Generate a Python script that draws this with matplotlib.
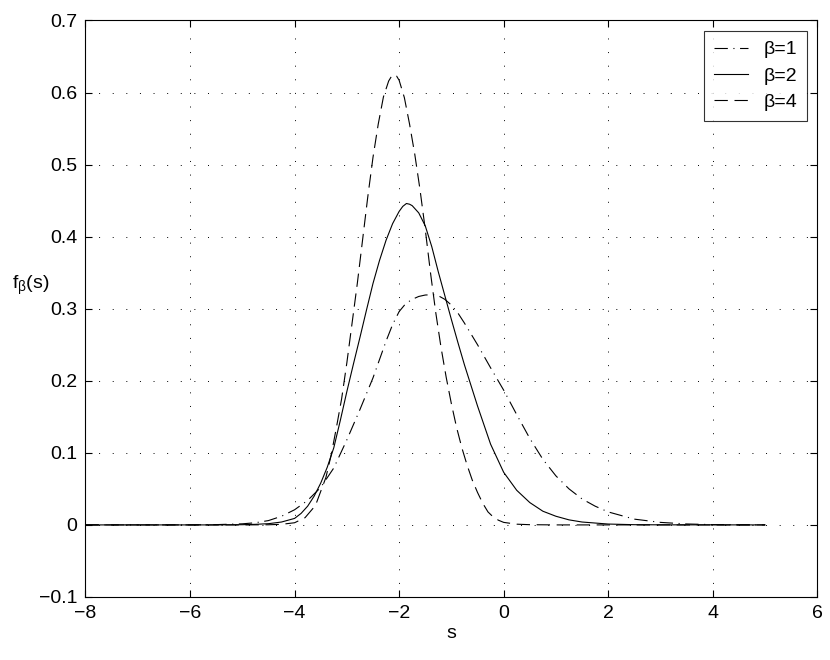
import matplotlib
matplotlib.use("Agg")
import matplotlib.pyplot as plt

plt.rcParams['font.family'] = ['Liberation Sans', 'DejaVu Sans']
plt.rcParams['mathtext.fontset'] = 'custom'
plt.rcParams['mathtext.rm'] = 'Liberation Sans'
plt.rcParams['mathtext.it'] = 'Liberation Sans'
plt.rcParams['mathtext.default'] = 'regular'

# beta = 1 (dash-dot)
s_b1 = [-8, -6, -5.5, -5, -4.75, -4.5, -4.25, -4, -3.75, -3.5, -3.25, -3, -2.75, -2.5,
        -2.25, -2.125, -2, -1.875, -1.75, -1.625, -1.5, -1.35, -1.25, -1.125, -1, -0.875,
        -0.75, -0.5, -0.25, 0, 0.25, 0.5, 0.75, 1, 1.25, 1.5, 1.75, 2, 2.5, 3, 3.5, 4,
        4.5, 5]
f_b1 = [0, 0, 0.0004, 0.0015, 0.003, 0.006, 0.012, 0.021, 0.034, 0.052, 0.079, 0.118,
        0.16, 0.204, 0.255, 0.278, 0.296, 0.307, 0.313, 0.317, 0.319, 0.3195, 0.318,
        0.313, 0.305, 0.294, 0.28, 0.25, 0.218, 0.187, 0.153, 0.12, 0.091, 0.068, 0.05,
        0.036, 0.026, 0.018, 0.008, 0.0035, 0.0013, 0.0004, 0.0001, 0]

# beta = 2 (solid)
s_b2 = [-8, -5.5, -5, -4.75, -4.5, -4.25, -4, -3.875, -3.75, -3.625, -3.5, -3.375, -3.25,
        -3.125, -3, -2.875, -2.75, -2.625, -2.5, -2.375, -2.25, -2.125, -2, -1.93, -1.86,
        -1.8, -1.75, -1.625, -1.5, -1.375, -1.25, -1.125, -1, -0.875, -0.75, -0.5, -0.25,
        0, 0.25, 0.5, 0.75, 1, 1.25, 1.5, 2, 2.5, 3, 5]
f_b2 = [0, 0, 0.0003, 0.0008, 0.0017, 0.004, 0.009, 0.016, 0.026, 0.04, 0.058, 0.08,
        0.107, 0.145, 0.185, 0.223, 0.26, 0.298, 0.335, 0.367, 0.395, 0.418, 0.435,
        0.442, 0.446, 0.445, 0.443, 0.433, 0.415, 0.386, 0.351, 0.318, 0.285, 0.253,
        0.222, 0.165, 0.112, 0.073, 0.048, 0.031, 0.019, 0.012, 0.007, 0.004, 0.0012,
        0.0003, 0.0001, 0]

# beta = 4 (dashed)
s_b4 = [-8, -5, -4.5, -4.25, -4, -3.8, -3.6, -3.4, -3.3, -3.2, -3.1, -3.0, -2.9, -2.8,
        -2.7, -2.6, -2.5, -2.4, -2.3, -2.2, -2.15, -2.1, -2.05, -2.0, -1.9, -1.8, -1.7,
        -1.6, -1.5, -1.4, -1.3, -1.2, -1.1, -1.0, -0.9, -0.8, -0.7, -0.6, -0.5, -0.4,
        -0.3, -0.2, -0.1, 0, 0.25, 0.5, 1, 5]
f_b4 = [0, 0, 0.0002, 0.0008, 0.003, 0.01, 0.027, 0.066, 0.097, 0.135, 0.175, 0.225,
        0.28, 0.335, 0.395, 0.455, 0.51, 0.556, 0.594, 0.616, 0.622, 0.625, 0.623,
        0.617, 0.593, 0.556, 0.514, 0.465, 0.41, 0.35, 0.295, 0.247, 0.205, 0.168,
        0.135, 0.107, 0.083, 0.062, 0.045, 0.03, 0.018, 0.011, 0.0065, 0.0035, 0.001,
        0.0003, 0, 0]

labels = ['β=1', 'β=2', 'β=4']
x_ticks = [-8, -6, -4, -2, 0, 2, 4, 6]
y_ticks = [-0.1, 0, 0.1, 0.2, 0.3, 0.4, 0.5, 0.6, 0.7]

fig = plt.figure(figsize=(8.3, 6.6), dpi=100)
ax = fig.add_axes([0.103, 0.0955, 0.8817, 0.8735])

ax.plot(s_b1, f_b1, color='black', lw=0.8, linestyle=(0, (12, 5, 1, 5)), label=labels[0])
ax.plot(s_b2, f_b2, color='black', lw=0.8, linestyle='-', label=labels[1])
ax.plot(s_b4, f_b4, color='black', lw=0.8, linestyle=(0, (12, 6)), label=labels[2])

ax.set_xlim(-8, 6)
ax.set_ylim(-0.1, 0.7)
ax.set_xticks(x_ticks)
ax.set_yticks(y_ticks)
ax.set_xticklabels(['\u22128', '\u22126', '\u22124', '\u22122', '0', '2', '4', '6'])
ax.set_yticklabels(['\u22120.1', '0', '0.1', '0.2', '0.3', '0.4', '0.5', '0.6', '0.7'])
ax.tick_params(direction='in', length=5, width=0.8, labelsize=14, top=True, right=True, pad=6)
ax.grid(True, color='black', linestyle=(0, (1, 13)), linewidth=0.7)
for sp in ax.spines.values():
    sp.set_linewidth(0.8)

ax.set_xlabel('s', fontsize=14, labelpad=2)
ax.set_ylabel(r'f$_\beta$(s)', fontsize=14, rotation=0, labelpad=0, va='center')
ax.yaxis.set_label_coords(-0.075, 0.54)

leg = ax.legend(loc='upper right', fontsize=14, frameon=True, fancybox=False,
                edgecolor='black', handlelength=1.75, borderaxespad=0.55,
                labelspacing=0.45, handletextpad=0.8, borderpad=0.5)
leg.get_frame().set_linewidth(0.8)

fig.savefig('out.png', dpi=100)
